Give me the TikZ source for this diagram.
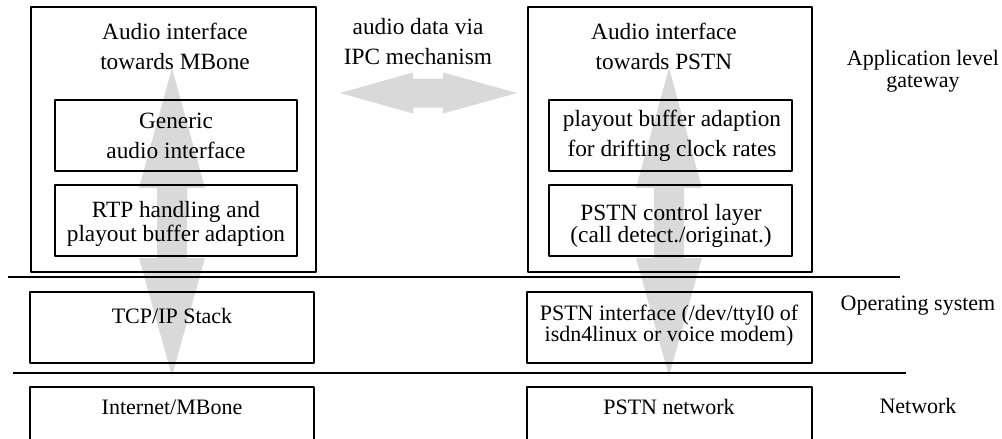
\documentclass[tikz,border=0pt]{standalone}
\usepackage{fontspec}
\setmainfont{Liberation Serif}
\definecolor{arrowgray}{RGB}{217,217,217}
\begin{document}
\begin{tikzpicture}[line join=round, x=0.5pt, y=-0.5pt,
	box/.style={line width=0.7pt},
	layer/.style={line width=1pt},
	big/.style={fill=arrowgray},
	txt/.style={align=center, inner sep=0pt, font=\fontsize{11.65}{15}\selectfont},
	lowtxt/.style={align=center, inner sep=0pt, font=\fontsize{11}{10.5}\selectfont}]
	\useasboundingbox (0,0) rectangle (1002,439);
	% gray arrows behind the boxes
	\foreach \cx in {172,669}
	\fill[big] (\cx,68)--(\cx+33,188)--(\cx+15,188)--(\cx+15,258)--(\cx+33,258)--(\cx,376)
		--(\cx-33,258)--(\cx-15,258)--(\cx-15,188)--(\cx-33,188)--cycle;
	\fill[big] (340,93)--(413,72.5)--(413,78.5)--(443,78.5)--(443,72.5)--(517,93)
		--(443,113.5)--(443,107.5)--(413,107.5)--(413,113.5)--cycle;
	% application level
	\draw[box] (31,7) rectangle (316,272);
	\draw[box] (55,100) rectangle (297,171);
	\draw[box] (55,185) rectangle (297,256);
	\draw[box] (528,7) rectangle (812,272);
	\draw[box] (549,100) rectangle (792,171);
	\draw[box] (549,185) rectangle (792,256);
	\node[txt] (mboneif) at (175,46.5) {Audio interface\\towards MBone};
	\node[txt] (generic) at (176,136) {Generic\\audio interface};
	\node[txt, font=\fontsize{11.65}{12}\selectfont] (rtp) at (176,224) {RTP handling and\\playout buffer adaption};
	\node[txt, font=\fontsize{11.65}{11}\selectfont] (control) at (671,226) {PSTN control layer\\(call detect./originat.)};
	\node[txt] (pstnif) at (664,46.5) {Audio interface\\towards PSTN};
	\node[txt] (playout) at (672,136) {playout buffer adaption\\for drifting clock rates};
	\node[txt] (ipc) at (418,42) {audio data via\\IPC mechanism};
	\node[lowtxt, font=\fontsize{11}{11}\selectfont] (applevel) at (923,71) {Application level\\gateway};
	% layer borders
	\draw[layer] (8,277)--(900,277);
	\draw[layer] (13,373)--(906,373);
	% operating system
	\draw[box] (30,292) rectangle (314,363);
	\draw[box] (527,292) rectangle (812,363);
	\node[lowtxt, anchor=base] (tcpip) at (172,323) {TCP/IP Stack};
	\node[lowtxt] (ttyif) at (669,326) {PSTN interface (/dev/ttyI0 of\\isdn4linux or voice modem)};
	\node[lowtxt, anchor=base] (opsys) at (918,310) {Operating system};
	% network
	\draw[box] (30,440)--(30,387)--(314,387)--(314,440);
	\draw[box] (527,440)--(527,387)--(812,387)--(812,440);
	\node[lowtxt, anchor=base] (inet) at (172,414) {Internet/MBone};
	\node[lowtxt, anchor=base] (pstnnet) at (669,414) {PSTN network};
	\node[lowtxt, anchor=base] (netlevel) at (918,413) {Network};
\end{tikzpicture}
\end{document}
